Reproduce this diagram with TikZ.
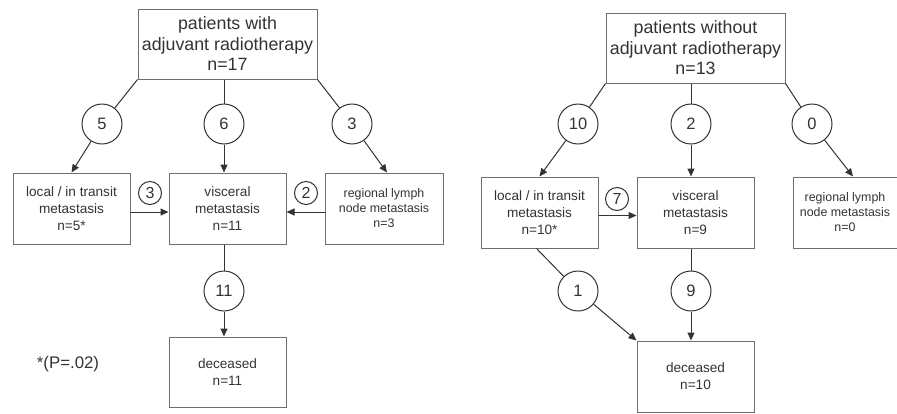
\documentclass[tikz,border=0pt]{standalone}
\usepackage{fontspec}
\setmainfont{Liberation Sans}
\usetikzlibrary{arrows.meta}
\definecolor{inkgray}{HTML}{333333}
\definecolor{framegray}{HTML}{6E6E6E}
\tikzset{
  headbox/.style={draw=framegray, line width=1pt, minimum width=179pt, minimum height=70pt,
    align=center, inner sep=2pt, text=inkgray, font=\fontsize{17.8}{20.5}\selectfont},
  stagebox/.style={draw=framegray, line width=1pt, minimum width=117pt, minimum height=71pt,
    align=center, inner sep=2pt, text=inkgray, font=\fontsize{13.6}{17}\selectfont},
  lymphbox/.style={stagebox, font=\fontsize{12.4}{15}\selectfont},
  count/.style={circle, draw=inkgray, line width=1pt, minimum size=40pt, inner sep=0pt,
    text=inkgray, font=\fontsize{16.5}{18}\selectfont},
  smallcount/.style={circle, draw=inkgray, line width=1pt, minimum size=23pt, inner sep=0pt,
    text=inkgray, font=\fontsize{16}{18}\selectfont},
  flow/.style={draw=inkgray, line width=1pt},
  flowto/.style={flow, -{Triangle[length=8pt,width=7pt]}}
}
\begin{document}
\begin{tikzpicture}[x=1pt, y=-1pt]
    \useasboundingbox (0,0) rectangle (897,413);

    % left group: with radiotherapy
    \node[headbox] (topL) at (227.5,44) {patients with\\adjuvant radiotherapy\\n=17};
    \node[stagebox] (locL) at (71.5,208.5) {local / in transit\\metastasis\\n=5*};
    \node[stagebox] (visL) at (227.5,208.5) {visceral\\metastasis\\n=11};
    \node[lymphbox, minimum width=118pt] (regL) at (384,208.5) {regional lymph\\node metastasis\\n=3};
    \node[stagebox, minimum height=70pt] (decL) at (227.5,372) {deceased\\n=11};
    \node[text=inkgray, font=\fontsize{16.8}{18}\selectfont] (note) at (68,364) {*(P=.02)};

    % the counts on the left
    \node[count] (cL5) at (102,124) {5};
    \node[count] (cL6) at (224,124) {6};
    \node[count] (cL3) at (352,124) {3};
    \node[count] (cL11) at (224,291) {11};
    \node[smallcount] (sL3) at (150,193) {3};
    \node[smallcount] (sL2) at (306,193) {2};

    % arrows on the left
    \draw[flow] (topL.south west) -- (cL5);
    \draw[flowto] (cL5) -- (locL.north);
    \draw[flow] (cL6 |- topL.south) -- (cL6);
    \draw[flowto] (cL6) -- (cL6 |- visL.north);
    \draw[flow] (topL.south east) -- (cL3);
    \draw[flowto] (cL3) -- ([xshift=3pt]regL.north);
    \draw[flowto] ([yshift=-3.5pt]locL.east) -- ([yshift=-3.5pt]visL.west);
    \draw[flowto] ([yshift=-3.5pt]regL.west) -- ([yshift=-3.5pt]visL.east);
    \draw[flow] (cL11 |- visL.south) -- (cL11);
    \draw[flowto] (cL11) -- (cL11 |- decL.north);

    % right group: without radiotherapy
    \node[headbox] (topR) at (695.5,48) {patients without\\adjuvant radiotherapy\\n=13};
    \node[stagebox] (locR) at (539.5,212.5) {local / in transit\\metastasis\\n=10*};
    \node[stagebox] (visR) at (695.5,212.5) {visceral\\metastasis\\n=9};
    \node[lymphbox, minimum width=104pt] (regR) at (845,212.5) {regional lymph\\node metastasis\\n=0};
    \node[stagebox] (decR) at (695.5,376.5) {deceased\\n=10};

    % the counts on the right
    \node[count] (cR10) at (578,124) {10};
    \node[count] (cR2) at (691,124) {2};
    \node[count] (cR0) at (812,124) {0};
    \node[count] (cR1) at (578,291) {1};
    \node[count] (cR9) at (691,291) {9};
    \node[smallcount] (sR7) at (617,199) {7};

    % arrows on the right
    \draw[flow] (topR.south west) -- (cR10);
    \draw[flowto] (cR10) -- (locR.north);
    \draw[flow] (cR2 |- topR.south) -- (cR2);
    \draw[flowto] (cR2) -- (cR2 |- visR.north);
    \draw[flow] (topR.south east) -- (cR0);
    \draw[flowto] (cR0) -- ([xshift=8pt]regR.north);
    \draw[flowto] ([yshift=-3pt]locR.east) -- ([yshift=-3pt]visR.west);
    \draw[flow] ([xshift=-3pt]locR.south) -- (cR1);
    \draw[flowto] (cR1) -- (decR.north west);
    \draw[flow] (cR9 |- visR.south) -- (cR9);
    \draw[flowto] (cR9) -- (cR9 |- decR.north);

\end{tikzpicture}
\end{document}
